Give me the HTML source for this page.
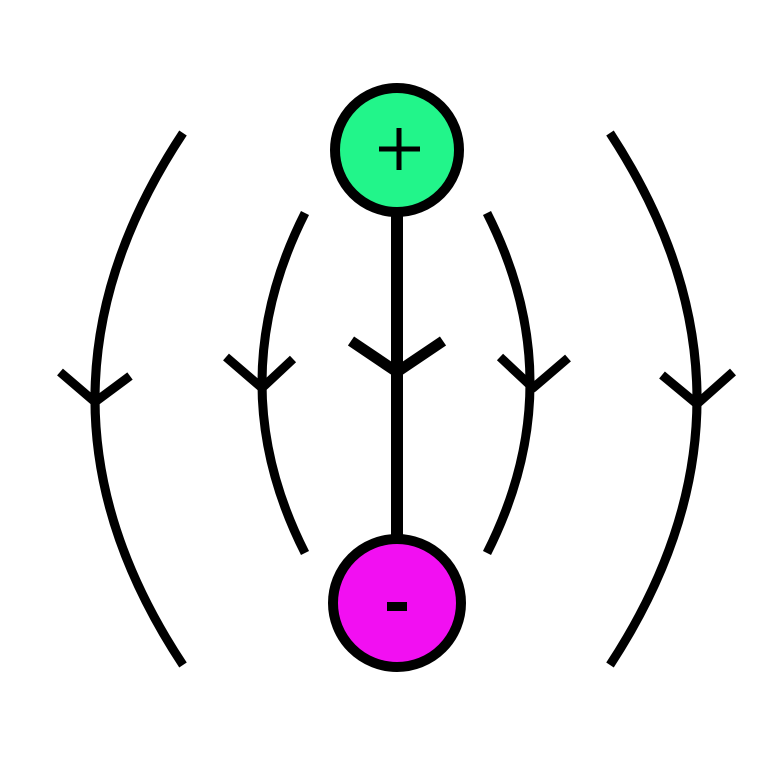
<!DOCTYPE html>
<html><head><style>html,body{margin:0;padding:0;background:#fff;}svg{display:block}</style></head>
<body>
<svg width="780" height="757" viewBox="0 0 780 757" xmlns="http://www.w3.org/2000/svg">
<g fill="none" stroke="#000" stroke-width="9" stroke-linecap="butt" stroke-linejoin="round">
<path d="M183,133 Q7,399 183,665"/>
<path d="M305,213 Q219,383 305,553"/>
<path d="M487,213 Q573,383 487,553"/>
<path d="M610,133 Q784,399 610,665"/>
<path d="M60,372 L95,402 L130,376"/>
<path d="M226,357 L262,388 L293,359"/>
<path d="M500,357 L533,388 L568,358"/>
<path d="M662,375 L697,404 L733,372"/>
<line x1="397" y1="215" x2="397" y2="542" stroke-width="12"/>
<path d="M351,341 L397,372 L443,341" stroke-width="11"/>
</g>
<circle cx="397" cy="150" r="62" fill="#22f58a" stroke="#000" stroke-width="10"/>
<circle cx="397" cy="603" r="64" fill="#f20ff2" stroke="#000" stroke-width="10"/>
<path d="M379,149 H420 M399,128 V170" stroke="#000" stroke-width="5"/>
<rect x="387" y="602" width="20" height="9" fill="#000"/>
</svg>
</body></html>
